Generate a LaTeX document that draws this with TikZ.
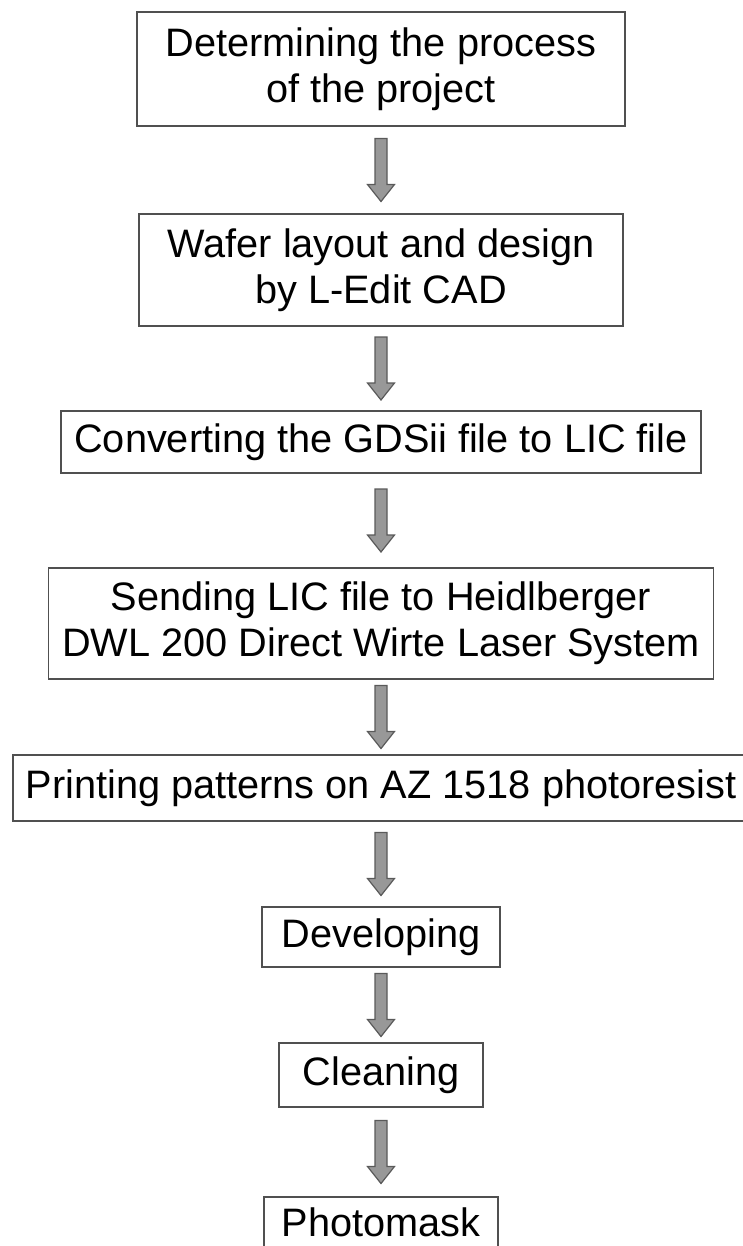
\documentclass[tikz,border=0pt]{standalone}
\usepackage{fontspec}
\setmainfont{Liberation Sans}
\usetikzlibrary{positioning,calc}
\definecolor{boxline}{HTML}{505050}
\definecolor{arrowgray}{HTML}{989898}
\definecolor{arrowline}{HTML}{5A5A5A}
\tikzset{box style/.style={
		draw=boxline,
		line width=0.8pt,
		fill=white,
		rectangle,
		align=center,
		inner sep=0pt,
		outer sep=0pt,
		font=\fontsize{19.85pt}{23pt}\selectfont,
	},
	feed arrow/.style={
		draw=arrowline,
		fill=arrowgray,
		line width=0.6pt,
		to path={let \p1=($(\tikztotarget.south)!0.5!(\tikztostart.north)$) in
			(\x1-3pt,\y1+15.75pt) -- (\x1+3pt,\y1+15.75pt) -- (\x1+3pt,\y1-7.25pt)
			-- (\x1+6.75pt,\y1-7.25pt) -- (\x1,\y1-15.75pt) -- (\x1-6.75pt,\y1-7.25pt)
			-- (\x1-3pt,\y1-7.25pt) -- cycle}
	}
}
\begin{document}
\begin{tikzpicture}
	\useasboundingbox (-190.5pt,34.5pt) rectangle (181pt,-588.5pt);
	
	\node[box style, minimum width=244pt, minimum height=57pt] (Process) at (0,0) {Determining the process\\of the project};
	
	\node[box style, minimum width=242pt, minimum height=56pt, below=44pt of Process] (Layout) {Wafer layout and design\\by L-Edit CAD}
	edge [feed arrow] (Process);
	
	\node[box style, minimum width=320pt, minimum height=31pt, below=42.5pt of Layout] (Convert) {Converting the GDSii file to LIC file}
	edge [feed arrow] (Layout);
	
	\node[box style, minimum width=332.5pt, minimum height=55.5pt, below=47.5pt of Convert] (Send) {Sending LIC file to Heidlberger\\DWL 200 Direct Wirte Laser System}
	edge [feed arrow] (Convert);
	
	\node[box style, minimum width=368pt, minimum height=33pt, below=38pt of Send] (Print) {Printing patterns on AZ 1518 photoresist}
	edge [feed arrow] (Send);
	
	\node[box style, minimum width=119pt, minimum height=30pt, below=43pt of Print] (Develop) {Developing}
	edge [feed arrow] (Print);
	
	\node[box style, minimum width=102pt, minimum height=32pt, below=38pt of Develop] (Clean) {Cleaning}
	edge [feed arrow] (Develop);
	
	\node[box style, minimum width=117pt, minimum height=25pt, below=45pt of Clean] (Mask) {Photomask}
	edge [feed arrow] (Clean);
\end{tikzpicture}
\end{document}
